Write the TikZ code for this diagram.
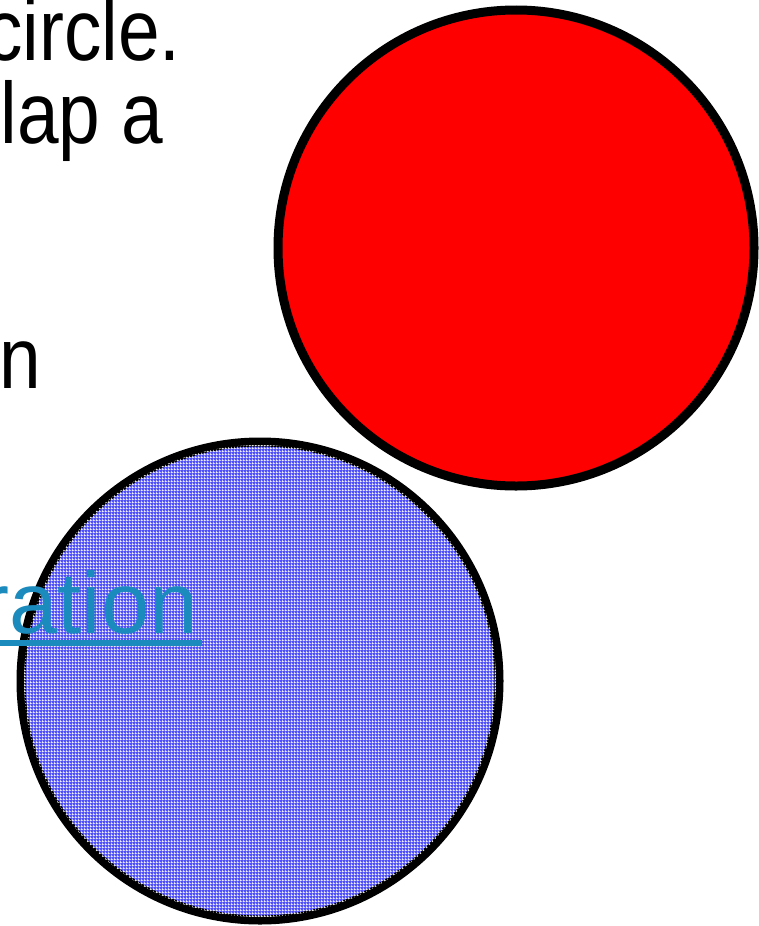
\documentclass[tikz,border=0pt]{standalone}
\usepackage{fontspec}
\setmainfont{Liberation Sans}
\newfontfamily\narrowfont[FakeStretch=0.86]{Liberation Sans}
\usetikzlibrary{patterns.meta}
\definecolor{redfill}{RGB}{255,0,0}
\definecolor{bluefill}{RGB}{80,80,250}
\definecolor{linkcol}{RGB}{27,138,188}
\pgfdeclarepattern{
  name=whitegrid,
  type=uncolored,
  bottom left={\pgfpoint{0pt}{0pt}},
  top right={\pgfpoint{3pt}{3pt}},
  tile size={\pgfpoint{3pt}{3pt}},
  code={
    \pgfpathrectangle{\pgfpoint{0pt}{0pt}}{\pgfpoint{3pt}{0.9pt}}
    \pgfpathrectangle{\pgfpoint{0pt}{0pt}}{\pgfpoint{0.9pt}{3pt}}
    \pgfusepath{fill}
  }
}
\tikzset{
  disc/.style={circle, draw=black, line width=9pt, inner sep=0pt, minimum size=#1},
  txt/.style={anchor=base east, inner sep=0pt, font=\narrowfont\fontsize{87}{87}\selectfont},
  linktxt/.style={anchor=base east, inner sep=0pt, text=linkcol, font=\fontsize{87}{87}\selectfont}
}
\begin{document}
\begin{tikzpicture}[x=1pt,y=-1pt]
\useasboundingbox (0,0) rectangle (759,926);
\fill[white] (0,0) rectangle (759,926);
\node[disc=476pt, fill=redfill] (red) at (516,248) {};
\node[disc=478pt, fill=bluefill] (blue) at (260,681) {};
\node[circle, inner sep=0pt, minimum size=472pt, pattern=whitegrid, pattern color=white] (bluepat) at (260,681) {};
\node[txt] (t1) at (181,60) {circle.};
\node[txt] (t2) at (163,143) {lap a};
\node[txt] (t3) at (41,388) {n};
\node[linktxt] (t4) at (198,633) {ration};
\fill[linkcol] (0,640) rectangle (202,646);
\end{tikzpicture}
\end{document}
